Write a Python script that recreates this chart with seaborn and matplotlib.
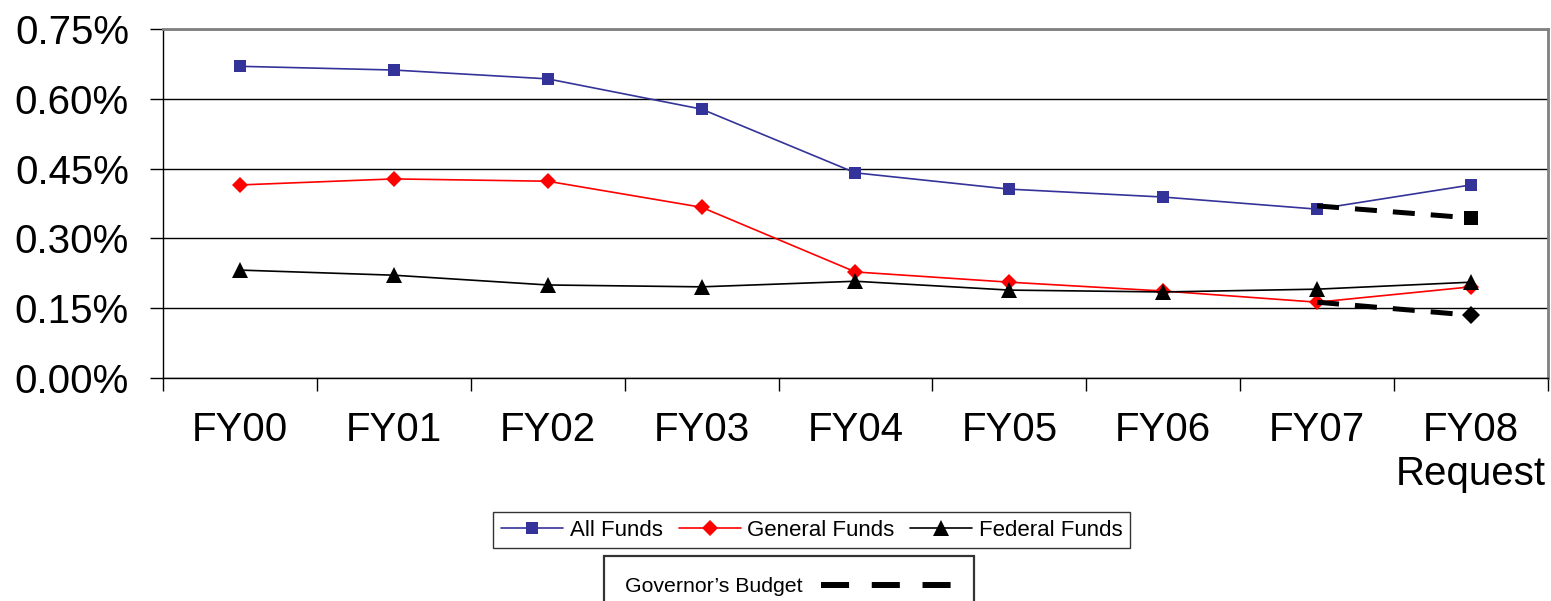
import pandas as pd
import seaborn as sns
import matplotlib.pyplot as plt
from matplotlib.lines import Line2D
from matplotlib.ticker import FuncFormatter, FixedLocator

# Data (percent)
years = ['FY00', 'FY01', 'FY02', 'FY03', 'FY04', 'FY05', 'FY06', 'FY07', 'FY08\nRequest']
all_funds = [0.670, 0.662, 0.643, 0.578, 0.441, 0.406, 0.389, 0.363, 0.415]
general_funds = [0.415, 0.428, 0.423, 0.367, 0.228, 0.206, 0.187, 0.163, 0.196]
federal_funds = [0.232, 0.221, 0.200, 0.196, 0.208, 0.189, 0.185, 0.191, 0.206]

# Governor's budget (FY07 -> FY08)
gov_years = ['FY07', 'FY08\nRequest']
gov_all = [0.370, 0.344]
gov_general = [0.163, 0.135]

sns.set_style('white')
plt.rcParams['font.family'] = ['Liberation Sans', 'DejaVu Sans']
plt.rcParams['text.color'] = 'black'
plt.rcParams['xtick.color'] = 'black'
plt.rcParams['ytick.color'] = 'black'

df = pd.DataFrame({'Year': years, 'All Funds': all_funds,
                   'General Funds': general_funds, 'Federal Funds': federal_funds})

fig = plt.figure(figsize=(15.51, 6.01), dpi=100)
ax = fig.add_axes([0.1051, 0.371, 0.8929, 0.5806])

sns.lineplot(data=df, x='Year', y='All Funds', ax=ax, color='#333399', lw=1.2,
             marker='s', markersize=9, markeredgewidth=0, sort=False, label='All Funds')
sns.lineplot(data=df, x='Year', y='General Funds', ax=ax, color='#ff0000', lw=1.2,
             marker='D', markersize=8.5, markeredgewidth=0, sort=False, label='General Funds')
sns.lineplot(data=df, x='Year', y='Federal Funds', ax=ax, color='black', lw=1.2,
             marker='^', markersize=11, markeredgewidth=0, sort=False, label='Federal Funds')

gov = pd.DataFrame({'Year': gov_years, 'all': gov_all, 'gen': gov_general})
sns.lineplot(data=gov, x='Year', y='all', ax=ax, color='black', lw=3.6,
             linestyle=(0, (4.4, 3.2)), marker='s', markersize=9.5, markevery=[1],
             markeredgewidth=0, sort=False, legend=False)
sns.lineplot(data=gov, x='Year', y='gen', ax=ax, color='black', lw=3.6,
             linestyle=(0, (4.4, 3.2)), marker='D', markersize=9, markevery=[1],
             markeredgewidth=0, sort=False, legend=False)

ax.set_xlim(-0.5, 8.5)
ax.set_ylim(0, 0.75)
ax.set_yticks([0, 0.15, 0.30, 0.45, 0.60, 0.75])
ax.yaxis.set_major_formatter(FuncFormatter(lambda v, p: f'{v:.2f}%'))
ax.grid(axis='y', color='black', lw=1)
ax.set_xlabel('')
ax.set_ylabel('')

ax.tick_params(axis='y', direction='out', length=9.5, width=1, color='black',
               labelsize=29, pad=15, left=True)
ax.tick_params(axis='x', which='major', length=0, labelsize=29, pad=24)
ax.xaxis.set_minor_locator(FixedLocator([i - 0.5 for i in range(10)]))
ax.tick_params(axis='x', which='minor', direction='out', length=9.5, width=1,
               color='black', bottom=True)

for side in ['left', 'bottom']:
    ax.spines[side].set_color('black')
    ax.spines[side].set_linewidth(1)
for side in ['top', 'right']:
    ax.spines[side].set_color('#808080')
    ax.spines[side].set_linewidth(2)

handles, labels = ax.get_legend_handles_labels()
ax.get_legend().remove()
leg1 = fig.legend(handles, labels, loc='center', bbox_to_anchor=(0.5235, 0.118),
                  ncol=3, fontsize=16, frameon=True, fancybox=False, edgecolor='black',
                  handlelength=2.8, columnspacing=0.7, handletextpad=0.3,
                  borderpad=0.35, borderaxespad=0)
leg1.get_frame().set_linewidth(1)

gov_handle = Line2D([], [], color='black', lw=4.3, linestyle=(0, (4.7, 3.8)))
leg2 = fig.legend([gov_handle], ["Governor\u2019s Budget"], loc='upper center',
                  bbox_to_anchor=(0.5087, 0.0749), fontsize=15.3, frameon=True,
                  fancybox=False, edgecolor='black', handlelength=6.2,
                  markerfirst=False, borderpad=1.0, handletextpad=0.85,
                  borderaxespad=0)
leg2.get_frame().set_linewidth(1.6)

plt.savefig('out.png', dpi=100)
